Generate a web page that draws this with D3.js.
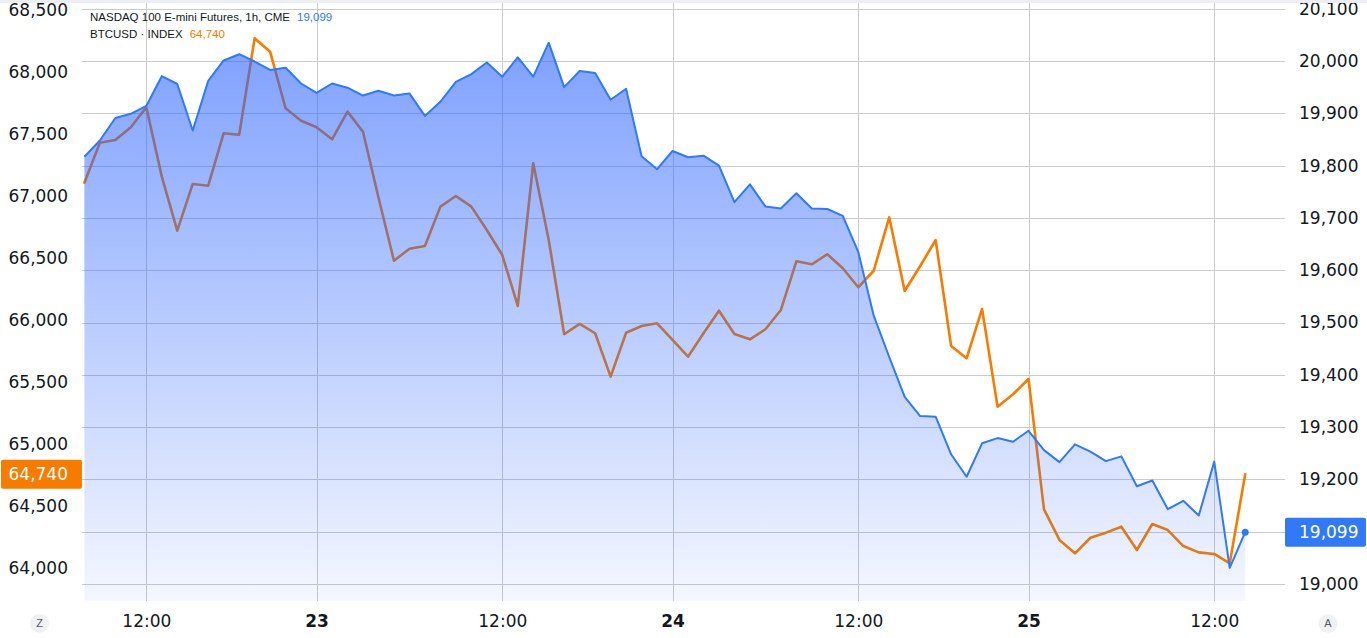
<!DOCTYPE html>
<html>
<head>
<meta charset="utf-8">
<script src="https://cdn.jsdelivr.net/npm/d3@7"></script>
<style>
  html, body { margin: 0; padding: 0; background: #ffffff; }
  svg { display: block; }
</style>
</head>
<body>
<svg id="chart" width="1367" height="638"></svg>
<script>
// ---------------- DATA ----------------
const categories = [
  "07-22 08:00","07-22 09:00","07-22 10:00","07-22 11:00","07-22 12:00","07-22 13:00","07-22 14:00","07-22 15:00",
  "07-22 16:00","07-22 18:00","07-22 19:00","07-22 20:00","07-22 21:00","07-22 22:00","07-22 23:00",
  "07-23 00:00","07-23 01:00","07-23 02:00","07-23 03:00","07-23 04:00","07-23 05:00","07-23 06:00","07-23 07:00",
  "07-23 08:00","07-23 09:00","07-23 10:00","07-23 11:00","07-23 12:00","07-23 13:00","07-23 14:00","07-23 15:00",
  "07-23 16:00","07-23 18:00","07-23 19:00","07-23 20:00","07-23 21:00","07-23 22:00","07-23 23:00",
  "07-24 00:00","07-24 01:00","07-24 02:00","07-24 03:00","07-24 04:00","07-24 05:00","07-24 06:00","07-24 07:00",
  "07-24 08:00","07-24 09:00","07-24 10:00","07-24 11:00","07-24 12:00","07-24 13:00","07-24 14:00","07-24 15:00",
  "07-24 16:00","07-24 18:00","07-24 19:00","07-24 20:00","07-24 21:00","07-24 22:00","07-24 23:00",
  "07-25 00:00","07-25 01:00","07-25 02:00","07-25 03:00","07-25 04:00","07-25 05:00","07-25 06:00","07-25 07:00",
  "07-25 08:00","07-25 09:00","07-25 10:00","07-25 11:00","07-25 12:00","07-25 13:00","07-25 14:00"
];

// NASDAQ 100 E-mini Futures, 1h (right scale)
const nqValues = [
  19817,19848,19891,19899,19914,19971,19956,19867,19962,20001,20013,19999,19983,19987,19957,
  19939,19957,19949,19934,19943,19934,19938,19895,19922,19960,19975,19997,19970,20007,19970,20035,19950,19981,19977,19926,19947,19818,19793,
  19828,19816,19819,19800,19730,19764,19722,19718,19747,19718,19717,19704,19635,19513,19434,19358,19321,19320,19248,19205,19269,19279,19272,
  19293,19256,19233,19267,19253,19235,19244,19187,19198,19143,19159,19131,19234,19031,19099
];

// BTCUSD · INDEX (left scale)
const btcValues = [
  67091,67414,67435,67538,67699,67140,66704,67081,67067,67490,67478,68256,68148,67691,67591,
  67538,67441,67664,67502,66972,66462,66559,66581,66898,66984,66898,66710,66508,66097,67248,66629,65869,65952,65877,65527,65881,65935,65957,
  65823,65688,65877,66059,65871,65828,65909,66065,66457,66433,66514,66401,66248,66381,66812,66218,66419,66629,65774,65675,66073,65285,65385,
  65508,64457,64210,64102,64228,64269,64317,64129,64339,64290,64161,64110,64097,64022,64740
];

const leftTicks  = [64000,64500,65000,65500,66000,66500,67000,67500,68000,68500];
const rightTicks = [19000,19100,19200,19300,19400,19500,19600,19700,19800,19900,20000,20100];
const xTickCats   = ["07-22 12:00","07-23 00:00","07-23 12:00","07-24 00:00","07-24 12:00","07-25 00:00","07-25 12:00"];
const xTickLabels = ["12:00","23","12:00","24","12:00","25","12:00"];
const xTickBold   = [false,true,false,true,false,true,false];

const nqName = "NASDAQ 100 E-mini Futures, 1h, CME";
const btcName = "BTCUSD · INDEX";
const nqLast = "19,099";
const btcLast = "64,740";

// ---------------- LAYOUT ----------------
const W = 1367, H = 638;
const plot = { left: 82, right: 1285, top: 0, bottom: 601 };
const BLUE = "#3179F5", ORANGE = "#F57C00", TEXT = "#131722", GRID = "#C9CBD1";
const AXIS_FONT = "'DejaVu Sans', sans-serif";

const svg = d3.select("#chart");
svg.append("rect").attr("width", W).attr("height", H).attr("fill", "#ffffff");

const x = d3.scalePoint().domain(categories).range([84.4, 1245.2]);
const yR = d3.scaleLinear().domain([19000, 20000]).range([584, 61]);
const yL = d3.scaleLinear().domain([64000, 68000]).range([566, 70]);

const defs = svg.append("defs");
defs.append("clipPath").attr("id", "plotClip")
  .append("rect").attr("x", plot.left).attr("y", plot.top)
  .attr("width", plot.right - plot.left).attr("height", plot.bottom - plot.top);

const grad = defs.append("linearGradient").attr("id", "areaGrad")
  .attr("gradientUnits", "userSpaceOnUse")
  .attr("x1", 0).attr("x2", 0)
  .attr("y1", yR(d3.max(nqValues))).attr("y2", plot.bottom);
grad.append("stop").attr("offset", "0%").attr("stop-color", "#2962FF").attr("stop-opacity", 0.6);
grad.append("stop").attr("offset", "100%").attr("stop-color", "#2962FF").attr("stop-opacity", 0.05);

const g = svg.append("g").attr("clip-path", "url(#plotClip)");

// grid
g.append("g").selectAll("line.h").data(rightTicks).join("line")
  .attr("x1", plot.left).attr("x2", plot.right)
  .attr("y1", d => Math.round(yR(d)) + 0.5).attr("y2", d => Math.round(yR(d)) + 0.5)
  .attr("stroke", GRID).attr("stroke-width", 1);
g.append("g").selectAll("line.v").data(xTickCats).join("line")
  .attr("y1", plot.top).attr("y2", plot.bottom)
  .attr("x1", d => Math.round(x(d)) + 0.5).attr("x2", d => Math.round(x(d)) + 0.5)
  .attr("stroke", GRID).attr("stroke-width", 1);

// BTC line (drawn under the translucent area)
const btcLine = d3.line().x((d, i) => x(categories[i])).y(d => yL(d));
g.append("path").datum(btcValues).attr("d", btcLine)
  .attr("fill", "none").attr("stroke", ORANGE).attr("stroke-width", 2.6)
  .attr("stroke-linejoin", "round").attr("stroke-linecap", "round");

// NQ area + line
const nqArea = d3.area().x((d, i) => x(categories[i])).y0(plot.bottom).y1(d => yR(d));
g.append("path").datum(nqValues).attr("d", nqArea).attr("fill", "url(#areaGrad)");
const nqLine = d3.line().x((d, i) => x(categories[i])).y(d => yR(d));
g.append("path").datum(nqValues).attr("d", nqLine)
  .attr("fill", "none").attr("stroke", BLUE).attr("stroke-width", 2)
  .attr("stroke-linejoin", "round");
g.append("circle")
  .attr("cx", x(categories[categories.length - 1]))
  .attr("cy", yR(nqValues[nqValues.length - 1]))
  .attr("r", 3.5).attr("fill", BLUE);

// Right axis
const rightAxis = d3.axisRight(yR).tickValues(rightTicks).tickSize(0).tickPadding(0)
  .tickFormat(d3.format(","));
const gr = svg.append("g").attr("transform", "translate(1299,0)").call(rightAxis);
gr.select(".domain").remove();
gr.selectAll("text").attr("font-family", AXIS_FONT).attr("font-size", 17).attr("fill", TEXT);

// top strip (clips the topmost right label, as in the reference)
svg.append("rect").attr("x", 0).attr("y", 0).attr("width", W).attr("height", 3).attr("fill", "#ECEEF4");

// Left axis
const leftAxis = d3.axisLeft(yL).tickValues(leftTicks).tickSize(0).tickPadding(0)
  .tickFormat(d3.format(","));
const gl = svg.append("g").attr("transform", "translate(68,0)").call(leftAxis);
gl.select(".domain").remove();
gl.selectAll("text").attr("font-family", AXIS_FONT).attr("font-size", 17).attr("fill", TEXT)
  .attr("dy", "0.42em");

// Bottom axis
const bottomAxis = d3.axisBottom(x).tickValues(xTickCats).tickSize(0).tickPadding(0)
  .tickFormat((d, i) => xTickLabels[i]);
const gb = svg.append("g").attr("transform", "translate(0,615)").call(bottomAxis);
gb.select(".domain").remove();
gb.selectAll("text").attr("font-family", AXIS_FONT).attr("font-size", 17).attr("fill", TEXT)
  .attr("font-weight", (d, i) => xTickBold[i] ? "bold" : "normal");

// Price badges
const btcY = yL(btcValues[btcValues.length - 1]);
svg.append("rect").attr("x", 1).attr("y", btcY - 14.5).attr("width", 81).attr("height", 29)
  .attr("rx", 2).attr("fill", ORANGE);
svg.append("text").attr("x", 68).attr("y", btcY).attr("dy", "0.35em")
  .attr("text-anchor", "end").attr("font-family", AXIS_FONT).attr("font-size", 17)
  .attr("fill", "#ffffff").text(btcLast);

const nqY = yR(nqValues[nqValues.length - 1]);
svg.append("rect").attr("x", 1285).attr("y", nqY - 14.5).attr("width", 81).attr("height", 29)
  .attr("rx", 2).attr("fill", BLUE);
svg.append("text").attr("x", 1299).attr("y", nqY).attr("dy", "0.35em")
  .attr("font-family", AXIS_FONT).attr("font-size", 17)
  .attr("fill", "#ffffff").text(nqLast);

// Legend
const LEG_FONT = "'Liberation Sans', Arial, sans-serif";
const l1 = svg.append("text").attr("x", 90).attr("y", 21.3)
  .attr("font-family", LEG_FONT).attr("font-size", 11.5).attr("fill", TEXT);
l1.append("tspan").text(nqName);
l1.append("tspan").attr("dx", 7).attr("fill", BLUE).text(nqLast);
const l2 = svg.append("text").attr("x", 90).attr("y", 37.7)
  .attr("font-family", LEG_FONT).attr("font-size", 11.5).attr("fill", TEXT);
l2.append("tspan").text(btcName);
l2.append("tspan").attr("dx", 7).attr("fill", ORANGE).text(btcLast);

// Scale-mode buttons
[[39.5, "Z"], [1328, "A"]].forEach(([cx, t]) => {
  svg.append("circle").attr("cx", cx).attr("cy", 623.5).attr("r", 9.5).attr("fill", "#F0F1F4");
  svg.append("text").attr("x", cx).attr("y", 623.5).attr("dy", "0.35em").attr("text-anchor", "middle")
    .attr("font-family", LEG_FONT).attr("font-size", 11).attr("fill", "#555a66").text(t);
});
</script>
</body>
</html>
